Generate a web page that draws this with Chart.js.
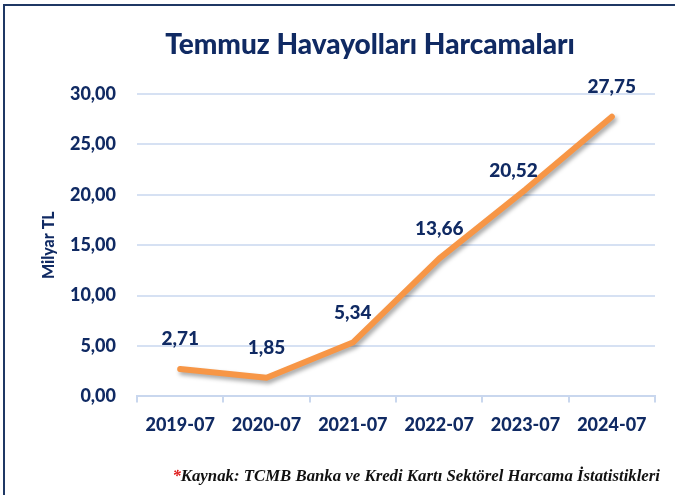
<!DOCTYPE html>
<html>
<head>
<meta charset="utf-8">
<script src="https://cdn.jsdelivr.net/npm/chart.js@4"></script>
<style>
  body { margin: 0; background: #fff; }
  #wrap { position: relative; width: 675px; height: 495px; overflow: hidden; }
  #frame { position: absolute; left: 3px; top: 4px; width: 700px; height: 520px;
           border-left: 2px solid #1f3864; border-top: 2px solid #1f3864; }
  #src { position: absolute; right: 15px; top: 466px; font: italic bold 16.8px "Liberation Serif", serif;
         color: #111; white-space: nowrap; }
  #src span { color: #e02020; }
  canvas { position: absolute; left: 0; top: 0; }
</style>
</head>
<body>
<div id="wrap">
  <div id="frame"></div>
  <canvas id="grafico" width="675" height="495"></canvas>
  <div id="src"><span>*</span>Kaynak: TCMB Banka ve Kredi Kartı Sektörel Harcama İstatistikleri</div>
</div>
<script>
// Temmuz havayolu harcamaları (milyar TL)
const donemler = ["2019-07", "2020-07", "2021-07", "2022-07", "2023-07", "2024-07"];
const harcamalar = [2.71, 1.85, 5.34, 13.66, 20.52, 27.75];
const yTicks = [0, 5, 10, 15, 20, 25, 30];

const lacivert = "#102a63";
const fmt = (v, d) => v.toFixed(d).replace(".", ",");

// baslik ve veri etiketleri
const yaziPlugin = {
  id: "yazilar",
  beforeDatasetDraw(chart) {
    const ctx = chart.ctx;
    ctx.save();
    ctx.shadowColor = "rgba(0,0,0,0.35)";
    ctx.shadowBlur = 4;
    ctx.shadowOffsetX = 2;
    ctx.shadowOffsetY = 3;
  },
  afterDatasetDraw(chart) {
    chart.ctx.restore();
  },
  afterDraw(chart, args, opts) {
    const ctx = chart.ctx;
    ctx.save();
    ctx.fillStyle = lacivert;
    ctx.font = "900 28px Lato";
    ctx.textAlign = "center";
    ctx.textBaseline = "alphabetic";
    ctx.fillText("Temmuz Havayolları Harcamaları", 370, 54);

    ctx.font = "900 19px Lato";
    ctx.textBaseline = "middle";
    const meta = chart.getDatasetMeta(0);
    meta.data.forEach((p, i) => {
      const o = opts.kaydir[i] || [0, -30];
      ctx.fillText(fmt(harcamalar[i], 2), p.x + o[0], p.y + o[1]);
    });
    ctx.restore();
  }
};

const kalin = { family: "Lato", size: 18, weight: "900" };

new Chart(document.getElementById("grafico"), {
  type: "line",
  data: {
    labels: donemler,
    datasets: [{
      label: "Harcama",
      data: harcamalar,
      borderColor: "#f79646",
      borderWidth: 6,
      borderCapStyle: "round",
      borderJoinStyle: "round",
      pointRadius: 0,
      tension: 0,
      clip: false
    }]
  },
  options: {
    responsive: false,
    animation: false,
    layout: { padding: { left: 0, right: 20, top: 94, bottom: 47 } },
    plugins: {
      legend: { display: false },
      tooltip: { enabled: false },
      yazilar: { kaydir: { 4: [-12, -19] } }
    },
    scales: {
      x: {
        offset: true,
        grid: { drawOnChartArea: false, color: "#c9d7ee", lineWidth: 2, tickLength: 6, offset: true },
        border: { color: "#c9d7ee", width: 2 },
        ticks: { color: lacivert, font: kalin, padding: 12 }
      },
      y: {
        min: 0,
        max: 30,
        afterFit(scale) { scale.width = 137; },
        afterBuildTicks(scale) { scale.ticks = yTicks.map(v => ({ value: v })); },
        grid: { color: "#d6e1f3", lineWidth: 2, drawTicks: false },
        border: { display: false },
        ticks: {
          color: lacivert,
          font: kalin,
          padding: 21,
          callback: v => fmt(v, 2)
        },
        title: {
          display: true,
          text: "Milyar TL",
          color: lacivert,
          font: { family: "Lato", size: 16, weight: "900" },
          padding: { top: 39, bottom: 0 }
        }
      }
    }
  },
  plugins: [yaziPlugin]
});
</script>
</body>
</html>
